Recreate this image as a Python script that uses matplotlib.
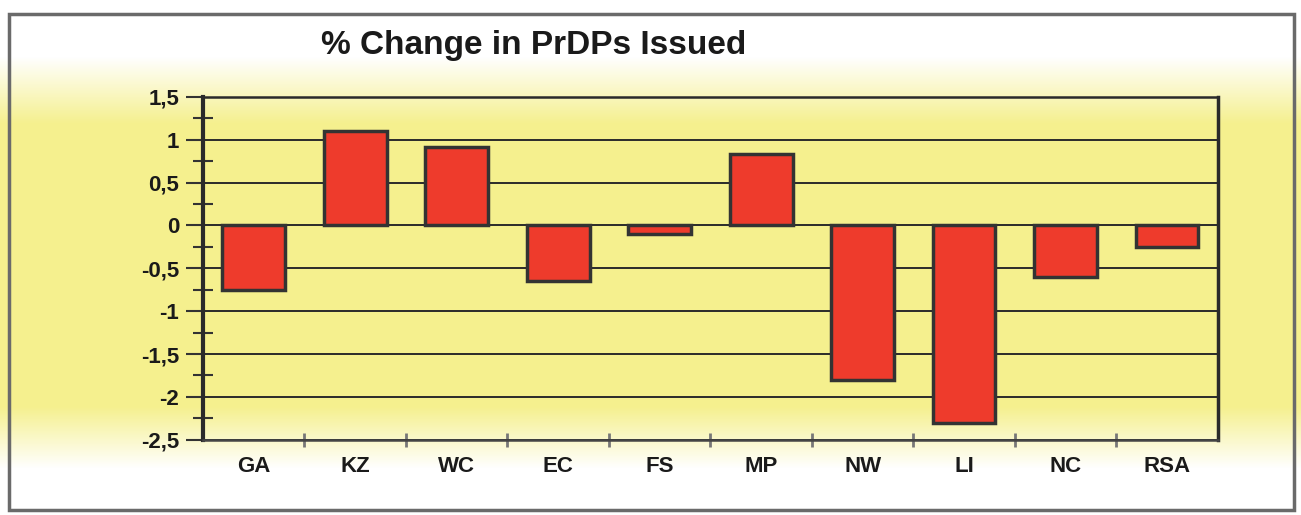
import numpy as np
import matplotlib
matplotlib.use('Agg')
import matplotlib.pyplot as plt
from matplotlib.ticker import MultipleLocator, FixedLocator

# provinces and % change
provinces = ['GA', 'KZ', 'WC', 'EC', 'FS', 'MP', 'NW', 'LI', 'NC', 'RSA']
change = [-0.75, 1.1, 0.92, -0.65, -0.1, 0.83, -1.8, -2.3, -0.6, -0.25]
yticks = [1.5, 1, 0.5, 0, -0.5, -1, -1.5, -2, -2.5]
ytick_labels = ['1,5', '1', '0,5', '0', '-0,5', '-1', '-1,5', '-2', '-2,5']

plt.rcParams['font.family'] = ['Liberation Sans', 'DejaVu Sans']

fig = plt.figure(figsize=(13.01, 5.15), dpi=100)

# background: white at top and bottom, pale yellow band through the middle
bg = fig.add_axes([0, 0, 1, 1])
yy = np.linspace(0, 1, 515)[:, None]  # 0 = top
band = np.clip((yy - 0.11) / 0.13, 0, 1) * np.clip((0.91 - yy) / 0.12, 0, 1)
white = np.array([1.0, 1.0, 1.0])
yellow = np.array([245, 240, 142]) / 255
img = white + band[..., None] * (yellow - white)
img = np.repeat(img, 2, axis=1)
bg.imshow(img, aspect='auto', extent=[0, 1, 0, 1])
bg.set_xlim(0, 1)
bg.set_ylim(0, 1)
bg.axis('off')
# outer frame
bg.add_patch(plt.Rectangle((0.007, 0.01), 0.988, 0.962, fill=False,
                           edgecolor='#6a6a6a', lw=2.5))

ax = fig.add_axes([0.156, 0.146, 0.78, 0.666])
ax.patch.set_alpha(0)
x = np.arange(len(provinces))
ax.bar(x, change, width=0.62, color='#ee3b2c', edgecolor='#333333',
       linewidth=2.5, zorder=3)

ax.set_xlim(-0.5, len(provinces) - 0.5)
ax.set_ylim(-2.5, 1.5)
ax.yaxis.set_major_locator(FixedLocator(yticks))
ax.set_yticklabels(ytick_labels)
ax.yaxis.set_minor_locator(MultipleLocator(0.25))
ax.grid(axis='y', which='major', color='#2a2a2a', lw=1.4, zorder=1)
ax.set_xticks(x)
ax.set_xticklabels(provinces)
ax.xaxis.set_minor_locator(FixedLocator(np.arange(0.5, len(provinces) - 1, 1)))

ax.tick_params(axis='y', which='major', length=12, width=1.5, color='#333333',
               labelsize=16, pad=5)
ax.tick_params(axis='y', which='minor', direction='inout', length=14, width=1.5,
               color='#333333')
ax.tick_params(axis='x', which='major', length=0, labelsize=16, pad=12)
ax.tick_params(axis='x', which='minor', direction='inout', length=10, width=2,
               color='#777777')
for lab in ax.get_xticklabels() + ax.get_yticklabels():
    lab.set_fontweight('bold')
    lab.set_color('#1a1a1a')

ax.spines['left'].set_linewidth(3)
ax.spines['left'].set_color('#2a2a2a')
ax.spines['bottom'].set_linewidth(1.8)
ax.spines['bottom'].set_color('#444444')
ax.spines['right'].set_linewidth(2.5)
ax.spines['right'].set_color('#2a2a2a')
ax.spines['top'].set_linewidth(1.8)
ax.spines['top'].set_color('#2a2a2a')

fig.text(0.41, 0.912, '% Change in PrDPs Issued', ha='center', va='center',
         fontsize=24, fontweight='bold', color='#1a1a1a')

fig.savefig('out.png', dpi=100)
